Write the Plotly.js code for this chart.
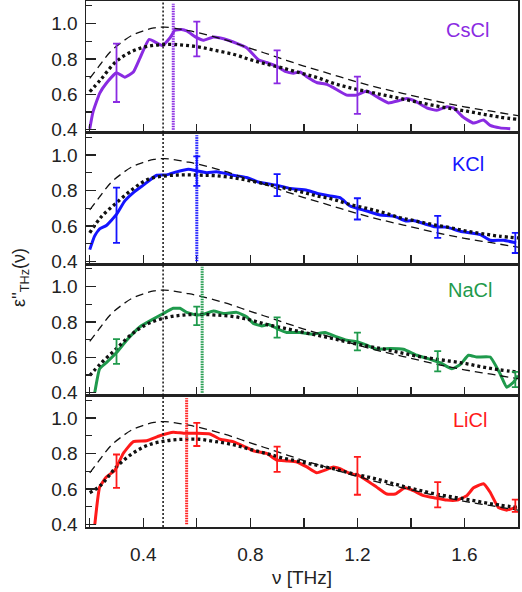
<!DOCTYPE html>
<html>
<head>
<meta charset="utf-8">
<script src="https://cdn.plot.ly/plotly-3.0.1.min.js"></script>
<style>html,body{margin:0;padding:0;background:#fff;}#chart{width:522px;height:592px;}</style>
</head>
<body>
<div id="chart"></div>
<script>
// ---------- data ----------
var saltNames = ["CsCl", "KCl", "NaCl", "LiCl"];
var saltColors = ["#8a2be2", "#1414ff", "#1f9a4c", "#ff1a1a"];

// common dashed model curve
var dashedX = [0.2, 0.24, 0.28, 0.32, 0.36, 0.40, 0.44, 0.48, 0.52, 0.56, 0.60, 0.70, 0.80, 0.90, 1.00, 1.10, 1.20, 1.30, 1.40, 1.50, 1.60, 1.70, 1.80];
var dashedY = [0.69, 0.77, 0.845, 0.895, 0.935, 0.958, 0.975, 0.98, 0.973, 0.962, 0.95, 0.91, 0.86, 0.81, 0.76, 0.715, 0.67, 0.63, 0.595, 0.56, 0.53, 0.505, 0.48];

// dotted fit curves (one per salt), common x grid
var fitX = [0.2, 0.24, 0.3, 0.36, 0.42, 0.49, 0.55, 0.61, 0.67, 0.74, 0.8, 0.86, 0.92, 0.99, 1.05, 1.11, 1.17, 1.24, 1.3, 1.36, 1.42, 1.48, 1.55, 1.61, 1.67, 1.73, 1.8];
var csclFitY = [0.615, 0.682, 0.787, 0.844, 0.872, 0.882, 0.878, 0.867, 0.848, 0.825, 0.796, 0.771, 0.749, 0.72, 0.695, 0.663, 0.638, 0.615, 0.596, 0.577, 0.558, 0.539, 0.52, 0.505, 0.488, 0.472, 0.459];
var kclFitY  = [0.561, 0.646, 0.731, 0.807, 0.864, 0.883, 0.888, 0.886, 0.883, 0.871, 0.854, 0.835, 0.816, 0.792, 0.769, 0.75, 0.722, 0.697, 0.674, 0.646, 0.627, 0.608, 0.589, 0.57, 0.555, 0.542, 0.532];
var naclFitY = [0.498, 0.564, 0.65, 0.735, 0.792, 0.826, 0.839, 0.843, 0.839, 0.83, 0.811, 0.786, 0.767, 0.744, 0.725, 0.706, 0.684, 0.663, 0.646, 0.627, 0.608, 0.593, 0.578, 0.564, 0.545, 0.53, 0.517];
var liclFitY = [0.578, 0.619, 0.724, 0.80, 0.848, 0.872, 0.88, 0.88, 0.867, 0.848, 0.823, 0.80, 0.775, 0.752, 0.733, 0.714, 0.69, 0.667, 0.644, 0.619, 0.596, 0.575, 0.556, 0.541, 0.524, 0.509, 0.495];

// measured spectra
var csclX = [0.2, 0.212, 0.237, 0.262, 0.3, 0.331, 0.363, 0.388, 0.422, 0.471, 0.5, 0.518, 0.543, 0.562, 0.6, 0.624, 0.662, 0.7, 0.749, 0.786, 0.83, 0.861, 0.899, 0.93, 0.961, 0.986, 1.011, 1.048, 1.086, 1.11, 1.16, 1.197, 1.235, 1.272, 1.316, 1.353, 1.384, 1.416, 1.459, 1.497, 1.534, 1.559, 1.595, 1.633, 1.671, 1.696, 1.733, 1.771];
var csclY = [0.406, 0.50, 0.606, 0.663, 0.722, 0.697, 0.726, 0.806, 0.91, 0.876, 0.92, 0.962, 0.966, 0.958, 0.92, 0.905, 0.924, 0.914, 0.888, 0.863, 0.796, 0.78, 0.758, 0.73, 0.72, 0.726, 0.70, 0.667, 0.657, 0.638, 0.596, 0.596, 0.619, 0.587, 0.552, 0.564, 0.577, 0.562, 0.524, 0.51, 0.53, 0.524, 0.472, 0.438, 0.455, 0.425, 0.411, 0.406];

var kclX = [0.2, 0.218, 0.237, 0.262, 0.3, 0.331, 0.363, 0.4, 0.45, 0.487, 0.524, 0.568, 0.6, 0.637, 0.674, 0.736, 0.786, 0.836, 0.899, 0.949, 1.011, 1.048, 1.098, 1.135, 1.173, 1.204, 1.235, 1.285, 1.335, 1.384, 1.409, 1.459, 1.49, 1.534, 1.584, 1.659, 1.696, 1.746, 1.793];
var kclY = [0.466, 0.542, 0.583, 0.602, 0.665, 0.741, 0.788, 0.83, 0.886, 0.888, 0.905, 0.92, 0.911, 0.90, 0.905, 0.886, 0.873, 0.845, 0.83, 0.811, 0.801, 0.784, 0.769, 0.759, 0.712, 0.697, 0.684, 0.661, 0.655, 0.627, 0.631, 0.608, 0.595, 0.593, 0.57, 0.551, 0.519, 0.519, 0.504];

var naclX = [0.219, 0.237, 0.262, 0.3, 0.338, 0.388, 0.437, 0.475, 0.512, 0.537, 0.562, 0.6, 0.624, 0.662, 0.7, 0.749, 0.786, 0.811, 0.843, 0.868, 0.899, 0.936, 0.986, 1.036, 1.079, 1.123, 1.16, 1.198, 1.235, 1.272, 1.322, 1.372, 1.422, 1.472, 1.509, 1.553, 1.584, 1.615, 1.646, 1.696, 1.733, 1.758, 1.783, 1.8];
var naclY = [0.403, 0.536, 0.57, 0.627, 0.697, 0.773, 0.816, 0.848, 0.877, 0.877, 0.854, 0.839, 0.843, 0.862, 0.848, 0.854, 0.83, 0.792, 0.777, 0.786, 0.763, 0.741, 0.741, 0.731, 0.741, 0.716, 0.697, 0.688, 0.669, 0.646, 0.65, 0.646, 0.612, 0.589, 0.57, 0.536, 0.559, 0.612, 0.602, 0.602, 0.508, 0.432, 0.46, 0.498];

var liclX = [0.219, 0.237, 0.262, 0.294, 0.325, 0.363, 0.412, 0.462, 0.512, 0.55, 0.6, 0.649, 0.687, 0.736, 0.774, 0.811, 0.861, 0.899, 0.936, 0.974, 1.011, 1.048, 1.086, 1.11, 1.135, 1.173, 1.204, 1.235, 1.272, 1.31, 1.341, 1.378, 1.409, 1.447, 1.49, 1.534, 1.572, 1.609, 1.634, 1.671, 1.696, 1.727, 1.758, 1.796];
var liclY = [0.40, 0.61, 0.667, 0.705, 0.80, 0.867, 0.872, 0.90, 0.92, 0.914, 0.914, 0.91, 0.88, 0.867, 0.842, 0.815, 0.80, 0.762, 0.758, 0.752, 0.724, 0.691, 0.71, 0.724, 0.714, 0.686, 0.676, 0.648, 0.61, 0.571, 0.571, 0.606, 0.59, 0.562, 0.549, 0.537, 0.537, 0.562, 0.606, 0.629, 0.581, 0.495, 0.48, 0.499];

// error bars
var csclErrX = [0.3, 0.6, 0.9, 1.2];
var csclErrY = [0.722, 0.913, 0.755, 0.595];
var csclErr  = [0.165, 0.098, 0.093, 0.105];
var kclErrX = [0.3, 0.6, 0.9, 1.2, 1.5, 1.79];
var kclErrY = [0.66, 0.909, 0.83, 0.696, 0.594, 0.504];
var kclErr  = [0.156, 0.083, 0.062, 0.06, 0.062, 0.057];
var naclErrX = [0.3, 0.6, 0.9, 1.2, 1.5, 1.79];
var naclErrY = [0.633, 0.834, 0.769, 0.69, 0.578, 0.475];
var naclErr  = [0.07, 0.052, 0.057, 0.05, 0.057, 0.043];
var liclErrX = [0.3, 0.6, 0.9, 1.2, 1.5, 1.79];
var liclErrY = [0.70, 0.907, 0.767, 0.674, 0.567, 0.505];
var liclErr  = [0.094, 0.065, 0.071, 0.107, 0.071, 0.035];

// peak positions (coloured vertical markers) and common reference line
var peakX = [0.512, 0.60, 0.62, 0.562];
var refPeakX = 0.474;

// axis ticks
var xMajorTicks = [0.4, 0.8, 1.2, 1.6];
var xMinorTicks = [0.2, 0.6, 1.0, 1.4, 1.8];
var yMajorTicks = [0.4, 0.6, 0.8, 1.0];
var yMinorTicks = [0.5, 0.7, 0.9, 1.1];

// label positions (data coords of each panel)
var labelX = [1.61, 1.615, 1.62, 1.62];
var labelY = [0.965, 0.95, 0.98, 0.99];

// ---------- build ----------
var FONT = "Liberation Sans, Arial, sans-serif";
var INK = "#222";

var series = [
  {x: csclX, y: csclY, fit: csclFitY, ex: csclErrX, ey: csclErrY, e: csclErr},
  {x: kclX,  y: kclY,  fit: kclFitY,  ex: kclErrX,  ey: kclErrY,  e: kclErr},
  {x: naclX, y: naclY, fit: naclFitY, ex: naclErrX, ey: naclErrY, e: naclErr},
  {x: liclX, y: liclY, fit: liclFitY, ex: liclErrX, ey: liclErrY, e: liclErr}
];

var traces = [];
var shapes = [];
var annotations = [];
var layout = {
  width: 522, height: 592,
  margin: {l: 86, r: 4, t: 1, b: 65},
  paper_bgcolor: "#fff", plot_bgcolor: "#fff",
  showlegend: false,
  font: {family: FONT, color: INK}
};

var domains = [[0.75, 1], [0.5, 0.75], [0.25, 0.5], [0, 0.25]];

series.forEach(function (s, i) {
  var n = i === 0 ? "" : String(i + 1);
  var xa = "x" + n, ya = "y" + n;
  var col = saltColors[i];
  traces.push({x: s.x, y: s.y, xaxis: xa, yaxis: ya, mode: "lines",
    line: {color: col, width: 3, shape: "spline", smoothing: 0.4}, hoverinfo: "skip"});
  traces.push({x: dashedX, y: dashedY, xaxis: xa, yaxis: ya, mode: "lines",
    line: {color: "#111", width: 1.3, dash: "8px,5px", shape: "spline"}, hoverinfo: "skip"});
  traces.push({x: fitX, y: s.fit, xaxis: xa, yaxis: ya, mode: "lines",
    line: {color: "#111", width: 3.3, dash: "3px,3px", shape: "spline"}, hoverinfo: "skip"});
  traces.push({x: s.ex, y: s.ey, xaxis: xa, yaxis: ya, mode: "markers",
    marker: {size: 1, color: "rgba(0,0,0,0)"},
    error_y: {type: "data", array: s.e, visible: true, color: col, thickness: 1.8, width: 3.5},
    hoverinfo: "skip"});

  shapes.push({type: "line", xref: xa, yref: ya + " domain", x0: peakX[i], x1: peakX[i], y0: 0.02, y1: 0.98,
    line: {color: col, width: 3, dash: "1.5px,1px"}, layer: "above"});
  shapes.push({type: "line", xref: xa, yref: ya + " domain", x0: refPeakX, x1: refPeakX, y0: 0, y1: 1,
    line: {color: "#111", width: 1.5, dash: "2px,2px"}, layer: "above"});

  annotations.push({xref: xa, yref: ya, x: labelX[i], y: labelY[i], text: saltNames[i], showarrow: false,
    font: {family: FONT, size: 20, color: col}, xanchor: "center", yanchor: "middle"});

  layout["xaxis" + n] = {
    anchor: ya, domain: [0, 1], range: [0.186, 1.8],
    tickvals: xMajorTicks, ticktext: xMajorTicks.map(function (v) { return v.toFixed(1); }),
    ticks: "inside", ticklen: 9, tickwidth: 1.3, tickcolor: INK,
    minor: {tickvals: xMinorTicks, ticks: "inside", ticklen: 9, tickwidth: 1.3, tickcolor: INK, showgrid: false},
    showticklabels: i === 3, ticklabelstandoff: 10,
    tickfont: {family: FONT, size: 19, color: INK},
    showline: true, mirror: true, linecolor: INK, linewidth: 1.5,
    showgrid: false, zeroline: false
  };
  if (i > 0) layout["xaxis" + n].matches = "x";
  layout["yaxis" + n] = {
    anchor: xa, domain: domains[i], range: [0.385, 1.127],
    tickvals: yMajorTicks, ticktext: yMajorTicks.map(function (v) { return v.toFixed(1); }),
    ticks: "inside", ticklen: 10, tickwidth: 1.3, tickcolor: INK,
    minor: {tickvals: yMinorTicks, ticks: "inside", ticklen: 6, tickwidth: 1.3, tickcolor: INK, showgrid: false},
    ticklabelstandoff: 3,
    tickfont: {family: FONT, size: 19, color: INK},
    showline: true, mirror: true, linecolor: INK, linewidth: 1.5,
    showgrid: false, zeroline: false
  };
});

layout.xaxis4.title = {text: "ν [THz]", font: {family: FONT, size: 19, color: INK}, standoff: 6};

annotations.push({xref: "paper", yref: "paper", x: -0.153, y: 0.475, textangle: -90,
  text: "ε''<sub>THz</sub>(ν)", showarrow: false, xanchor: "center", yanchor: "middle",
  font: {family: FONT, size: 18, color: INK}});

layout.shapes = shapes;
layout.annotations = annotations;

Plotly.newPlot("chart", traces, layout, {displayModeBar: false, staticPlot: true});
</script>
</body>
</html>
